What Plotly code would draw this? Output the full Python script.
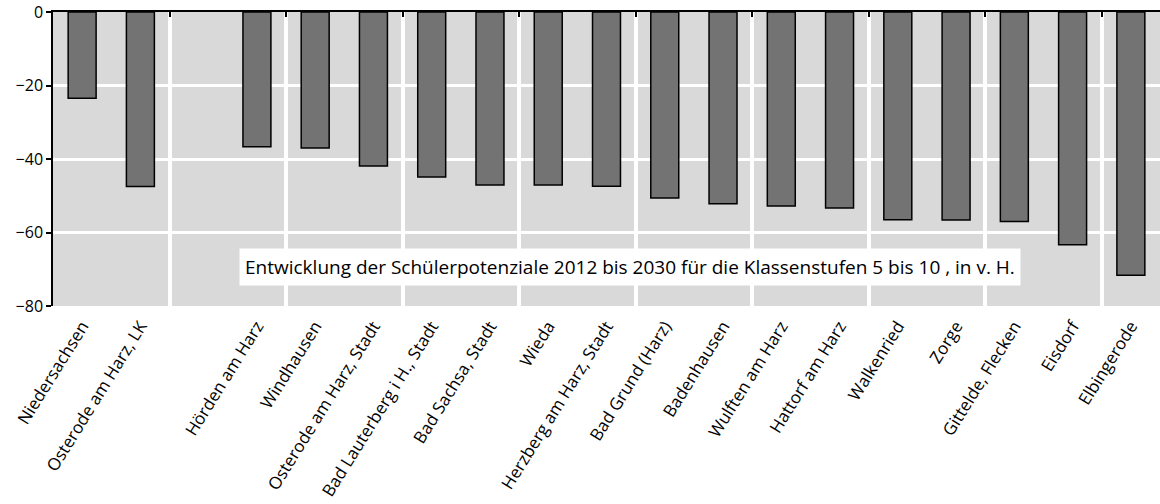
import plotly.graph_objects as go

# Gemeinden und Vergleichsräume (leere Position trennt Landkreis und Gemeinden)
categories = [
    "Niedersachsen", "Osterode am Harz, LK", " ",
    "Hörden am Harz", "Windhausen", "Osterode am Harz, Stadt",
    "Bad Lauterberg i H., Stadt", "Bad Sachsa, Stadt", "Wieda",
    "Herzberg am Harz, Stadt", "Bad Grund (Harz)", "Badenhausen",
    "Wulften am Harz", "Hattorf am Harz", "Walkenried", "Zorge",
    "Gittelde, Flecken", "Eisdorf", "Elbingerode",
]
# Veränderung 2012-2030 in Prozent
values = [
    -23.5, -47.5, None,
    -36.7, -37.0, -41.9,
    -44.9, -47.1, -47.1,
    -47.4, -50.6, -52.2,
    -52.8, -53.3, -56.5, -56.6,
    -57.0, -63.3, -71.6,
]
y_ticks = [0, -20, -40, -60, -80]
title_text = ("Entwicklung der Schülerpotenziale 2012 bis 2030 für die "
              "Klassenstufen 5 bis 10 , in v. H.")

FONT = "Open Sans, sans-serif"

fig = go.Figure()
fig.add_trace(go.Bar(
    x=categories, y=values,
    marker=dict(color="#737373", line=dict(color="black", width=1.5)),
    width=0.48,
    showlegend=False,
))

n = len(categories)
# separators between every second category
sep_positions = [i + 0.5 for i in range(1, n - 1, 2)]

fig.update_layout(
    width=1160, height=504,
    margin=dict(l=53, r=0, t=12, b=198),
    paper_bgcolor="white",
    plot_bgcolor="#d9d9d9",
    font=dict(family=FONT, size=16, color="black"),
    xaxis=dict(
        type="category",
        range=[-0.5, n - 0.5],
        showgrid=False, showline=False, zeroline=False,
        ticks="", tickangle=-58, ticklabelstandoff=6,
        tickfont=dict(family=FONT, size=17),
    ),
    xaxis2=dict(
        overlaying="x", side="top", anchor="y",
        range=[-0.5, n - 0.5],
        tickmode="array", tickvals=sep_positions,
        showticklabels=False,
        ticks="inside", ticklen=5, tickwidth=1.5, tickcolor="black",
        showline=True, linecolor="black", linewidth=1.5,
        showgrid=True, gridcolor="white", gridwidth=3.5,
        zeroline=False,
    ),
    yaxis=dict(
        range=[-80, 0],
        tickmode="array", tickvals=y_ticks,
        ticks="outside", ticklen=5, tickwidth=1.5, tickcolor="black",
        showline=True, linecolor="black", linewidth=1.5,
        showgrid=True, gridcolor="white", gridwidth=3,
        zeroline=False,
        tickfont=dict(family=FONT, size=16),
    ),
    annotations=[dict(
        text=title_text,
        xref="paper", yref="y", x=0.521, y=-69.4,
        showarrow=False,
        bgcolor="white", borderpad=5,
        font=dict(family=FONT, size=19, color="black"),
    )],
)
# dummy trace keeps the separator axis active
fig.add_trace(go.Scatter(x=[None], y=[None], xaxis="x2", showlegend=False,
                         hoverinfo="skip"))

fig.write_html("out.html")
